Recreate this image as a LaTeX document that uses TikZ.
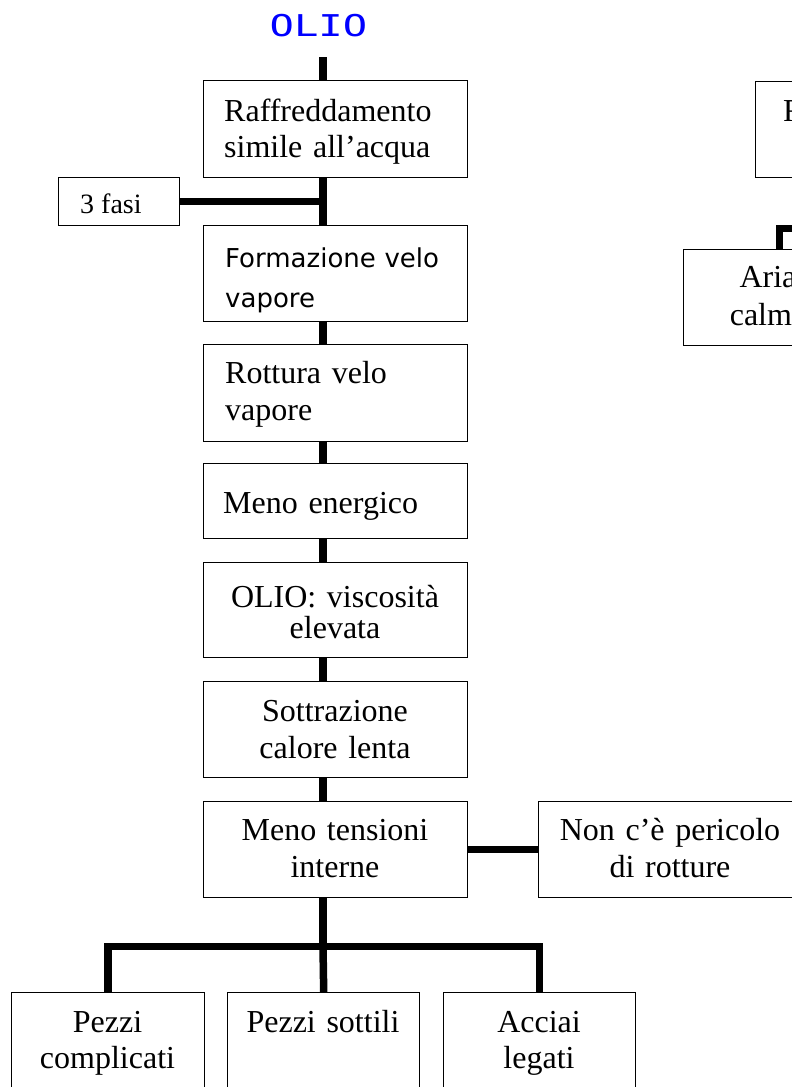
\documentclass[tikz,border=0pt]{standalone}
\usepackage{fontspec}
\setmainfont{Liberation Serif}
\newfontfamily\roundsans{DejaVu Sans}
\newfontfamily\roundmono{DejaVu Sans Mono}
\begin{document}
\begin{tikzpicture}[x=1pt,y=-1pt,
  box/.style={draw=black,line width=1.4pt,fill=white,inner sep=0pt,anchor=north west},
  conn/.style={line width=7.5pt,line join=miter},
  txt/.style={inner sep=0pt,font=\fontsize{32}{36}\selectfont},
  ltxt/.style={txt,anchor=base west,text width=250pt,align=left},
  ctxt/.style={txt,anchor=base,text width=260pt,align=center}]
\clip (0,0) rectangle (792,1087);
\fill[white] (0,0) rectangle (792,1087);

% title
\node[inner sep=0pt,text=blue,font=\roundmono\fontsize{30}{30}\selectfont] (title) at (318.5,26)
  {\scalebox{1.35}[1]{OLIO}};
\coordinate (ttop) at (323,57);
\coordinate (sx) at (323,0);

% main column
\node[box,minimum width=264pt,minimum height=97pt] (b1) at (203,80) {};
\node[ltxt] (t1) at (224,121) {Raffreddamento\\simile all’acqua};
\node[box,minimum width=121pt,minimum height=48pt] (fasi) at (58,177) {};
\node[txt,anchor=base west,font=\fontsize{28}{32}\selectfont] (tf) at (80,213) {3 fasi};
\node[box,minimum width=264pt,minimum height=96pt] (b2) at (203,225) {};
\node[ltxt,font=\roundsans\fontsize{26}{40}\selectfont] (t2) at (225,267) {Formazione velo\\vapore};
\node[box,minimum width=264pt,minimum height=97pt] (b3) at (203,344) {};
\node[ltxt,font=\fontsize{32}{37}\selectfont] (t3) at (225,383) {Rottura velo\\vapore};
\node[box,minimum width=264pt,minimum height=75pt] (b4) at (203,463) {};
\node[ltxt] (t4) at (223,513) {Meno energico};
\node[box,minimum width=264pt,minimum height=95pt] (b5) at (203,562) {};
\node[ctxt,font=\fontsize{32}{31}\selectfont] (t5) at (335,607) {OLIO: viscosità\\elevata};
\node[box,minimum width=264pt,minimum height=96pt] (b6) at (203,681) {};
\node[ctxt,font=\fontsize{32}{37}\selectfont] (t6) at (335,721) {Sottrazione\\calore lenta};
\node[box,minimum width=264pt,minimum height=96pt] (b7) at (203,801) {};
\node[ctxt,font=\fontsize{32}{37}\selectfont] (t7) at (335,840) {Meno tensioni\\interne};
\node[box,minimum width=272pt,minimum height=96pt] (b8) at (538,801) {};
\node[ctxt,font=\fontsize{32}{37}\selectfont] (t8) at (670,840) {Non c’è pericolo\\di rotture};

% leaves
\node[box,minimum width=193pt,minimum height=110pt] (b9) at (11,992) {};
\node[ctxt,text width=190pt] (t9) at (107.5,1032) {Pezzi\\complicati};
\node[box,minimum width=192pt,minimum height=110pt] (b10) at (227,992) {};
\node[ctxt,text width=190pt] (t10) at (323,1032) {Pezzi sottili};
\node[box,minimum width=192pt,minimum height=110pt] (b11) at (443,992) {};
\node[ctxt,text width=190pt] (t11) at (539,1032) {Acciai\\legati};

% right column
\node[box,minimum width=80pt,minimum height=96pt] (r1) at (755,81) {};
\node[txt,anchor=base west] (tr1) at (783,121) {R};
\node[box,minimum width=170pt,minimum height=96pt] (r2) at (683,249) {};
\node[ctxt,font=\fontsize{32}{38}\selectfont,text width=160pt] (tr2) at (768,287) {Aria\\calma};
\coordinate (ax) at (779.5,0);
\coordinate (rtop) at (800,228.5);

% connectors
\draw[conn] (ttop) -- (b1.north -| sx);
\draw[conn] (b1.south -| sx) -- (b2.north -| sx);
\draw[conn] (fasi.east) -- (fasi.east -| sx);
\draw[conn] (b2.south -| sx) -- (b3.north -| sx);
\draw[conn] (b3.south -| sx) -- (b4.north -| sx);
\draw[conn] (b4.south -| sx) -- (b5.north -| sx);
\draw[conn] (b5.south -| sx) -- (b6.north -| sx);
\draw[conn] (b6.south -| sx) -- (b7.north -| sx);
\draw[conn] (b7.east) -- (b8.west);
\draw[conn] (b7.south -| sx) -- ++(0,48) coordinate (fork);
\draw[conn] (b9.north) |- (fork) -| (b11.north);
\draw[conn] (fork) -- (b10.north);
\draw[conn] (rtop) -| (r2.north -| ax);
\end{tikzpicture}
\end{document}
